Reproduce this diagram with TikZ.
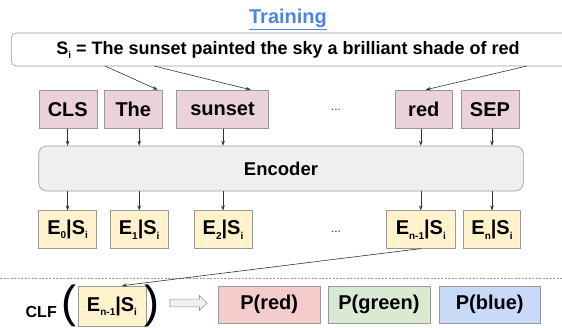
\documentclass[tikz,border=0pt]{standalone}
\usepackage{fontspec}
\setmainfont{Liberation Sans}
\usetikzlibrary{arrows.meta, positioning, shapes.arrows}
\definecolor{tokcolor}{HTML}{EAD1DC}
\definecolor{embcolor}{HTML}{FFF2CC}
\definecolor{enccolor}{HTML}{EFEFEF}
\definecolor{redcolor}{HTML}{F4CCCC}
\definecolor{greencolor}{HTML}{D9EAD3}
\definecolor{bluecolor}{HTML}{C9DAF8}
\definecolor{titlecolor}{HTML}{4A86E8}
\definecolor{edgecolor}{HTML}{999999}
\definecolor{arrowcolor}{HTML}{333333}
\newcommand{\lsub}[1]{\raisebox{-4.5pt}{\fontsize{10}{10}\selectfont #1}}
\tikzset{
  box/.style={
    rectangle, inner sep=0pt,
    text centered, font=\fontsize{20}{20}\selectfont\bfseries,
    draw=edgecolor, line width=0.6pt
  },
  tokblock/.style={
    box, fill=tokcolor, minimum height=38.3pt
  },
  embblock/.style={
    box, fill=embcolor, minimum height=37.6pt
  },
  encblock/.style={
    box, fill=enccolor, rounded corners=8pt,
    minimum width=484.6pt, minimum height=45pt,
    font=\fontsize{18.5}{18.5}\selectfont\bfseries
  },
  probblock/.style={
    box, minimum width=101.8pt, minimum height=37.3pt,
    font=\fontsize{20}{20}\selectfont\bfseries
  },
  dotsnode/.style={
    font=\fontsize{12}{12}\selectfont, text=arrowcolor
  },
  parnode/.style={
    inner sep=0pt, font=\fontsize{45}{45}\selectfont
  },
  arr/.style={
    -{Stealth[length=5pt, width=3.6pt]}, line width=0.6pt, color=arrowcolor
  }
}

\begin{document}
\begin{tikzpicture}[x=1pt, y=-1pt]
  \useasboundingbox (0,0) rectangle (562,327);

  % ── Title and sentence ────────────────────────────────────
  \node[font=\fontsize{20}{20}\selectfont\bfseries, text=titlecolor] (title)
    at (288,19) {\underline{Training}};
  \node[draw=edgecolor, line width=0.6pt, rounded corners=5pt, anchor=west,
    minimum width=570pt, minimum height=33pt] (sentbox) at (11,49.5) {};
  \node[font=\fontsize{18}{18}\selectfont\bfseries] (sent)
    at (288,50) {S\lsub{i} = The sunset painted the sky a brilliant shade of red};

  % ── Tokens ─────────────────────────────────────────────────
  \node[tokblock, minimum width=58pt]   (cls)    at (67.8,109.2)  {CLS};
  \node[tokblock, minimum width=58pt]   (the)    at (133.3,109.2) {The};
  \node[tokblock, minimum width=91.7pt] (sunset) at (222.5,109.2) {sunset};
  \node[dotsnode]                       (dots1)  at (336,110)     {...};
  \node[tokblock, minimum width=57.7pt] (red)    at (423.8,109.2) {red};
  \node[tokblock, minimum width=58pt]   (sep)    at (490,109.2)   {SEP};

  % ── Encoder ────────────────────────────────────────────────
  \node[encblock] (enc) at (281,168.5) {Encoder};

  % ── Embeddings ─────────────────────────────────────────────
  \node[embblock, minimum width=58pt]   (e0)  at (67.6,229.5)  {E\lsub{0}|S\lsub{i}};
  \node[embblock, minimum width=58pt]   (e1)  at (139.2,229.5) {E\lsub{1}|S\lsub{i}};
  \node[embblock, minimum width=58pt]   (e2)  at (223,229.5)   {E\lsub{2}|S\lsub{i}};
  \node[dotsnode]                       (dots2) at (336,232)   {...};
  \node[embblock, minimum width=69pt]   (en1) at (420.8,229.5) {E\lsub{n-1}|S\lsub{i}};
  \node[embblock, minimum width=57.5pt] (en)  at (492,229.5)   {E\lsub{n}|S\lsub{i}};

  % ── Sentence to tokens ─────────────────────────────────────
  \coordinate (s1) at (105,66);
  \coordinate (s2) at (154,66);
  \coordinate (s3) at (527,66);
  \draw[arr] (s1) -- ([xshift=-5pt]the.north east);
  \draw[arr] (s2) -- ([xshift=-18pt]sunset.north east);
  \draw[arr] (s3) -- ([xshift=2pt]red.north);

  % ── Tokens to encoder to embeddings ────────────────────────
  \draw[arr] (e0  |- cls.south)    -- (e0  |- enc.north);
  \draw[arr] (e1  |- the.south)    -- (e1  |- enc.north);
  \draw[arr] (e2  |- sunset.south) -- (e2  |- enc.north);
  \draw[arr] (en1 |- red.south)    -- (en1 |- enc.north);
  \draw[arr] (en  |- sep.south)    -- (en  |- enc.north);
  \draw[arr] (e0  |- enc.south)    -- (e0);
  \draw[arr] (e1  |- enc.south)    -- (e1);
  \draw[arr] (e2  |- enc.south)    -- (e2);
  \draw[arr] (en1 |- enc.south)    -- (en1);
  \draw[arr] (en  |- enc.south)    -- (en);

  % ── Separator ──────────────────────────────────────────────
  \draw[edgecolor, line width=0.6pt, dash pattern=on 2pt off 1.5pt] (0,278) -- (562,278);

  % ── Classifier ─────────────────────────────────────────────
  \node[embblock, minimum width=68pt, minimum height=40pt] (clfbox) at (112,306) {E\lsub{n-1}|S\lsub{i}};
  \node[parnode] (lpar) at (69,306) {(};
  \node[parnode] (rpar) at (152,306) {)};
  \node[font=\fontsize{16}{16}\selectfont\bfseries, left=1pt of lpar, yshift=-6pt] (clf) {CLF};
  \draw[arr] (en1.south) -- ([xshift=10pt]clfbox.north);

  \node[single arrow, draw=edgecolor, fill=enccolor, line width=0.6pt,
    minimum height=37pt, minimum width=15pt, single arrow head extend=3.5pt,
    single arrow head indent=0pt, inner sep=3.5pt] (clfarr) at (186.5,303) {};

  \node[probblock, fill=redcolor]                  (pred)   at (269.2,304.7) {P(red)};
  \node[probblock, fill=greencolor, right=7.3pt of pred]   (pgreen) {P(green)};
  \node[probblock, fill=bluecolor,  right=8.4pt of pgreen] (pblue)  {P(blue)};

\end{tikzpicture}
\end{document}
